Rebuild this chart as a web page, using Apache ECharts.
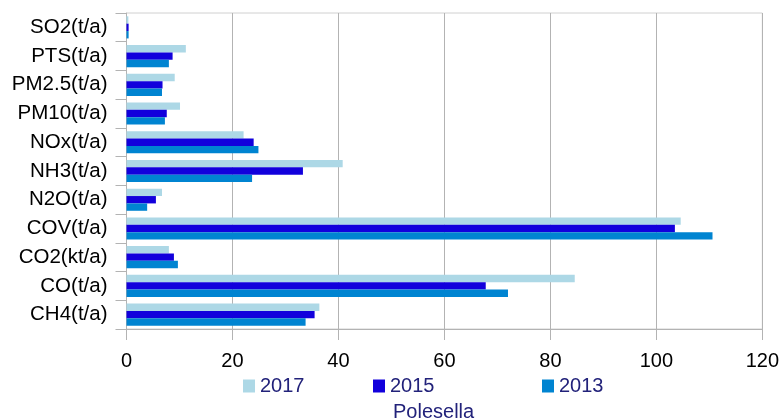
<!DOCTYPE html>
<html><head><meta charset="utf-8">
<script src="https://cdn.jsdelivr.net/npm/echarts@6/dist/echarts.min.js"></script>
<style>html,body{margin:0;padding:0;background:#fff}#c{width:782px;height:420px}</style>
</head><body><div id="c"></div>
<script>
var categories = ['CH4(t/a)','CO(t/a)','CO2(kt/a)','COV(t/a)','N2O(t/a)','NH3(t/a)','NOx(t/a)','PM10(t/a)','PM2.5(t/a)','PTS(t/a)','SO2(t/a)'];
var seriesNames = ['2017','2015','2013'];
var values2017 = [36.4, 84.6, 8.0, 104.6, 6.7, 40.8, 22.1, 10.1, 9.1, 11.2, 0.35];
var values2015 = [35.5, 67.8, 8.95, 103.5, 5.55, 33.3, 24.0, 7.6, 6.8, 8.7, 0.4];
var values2013 = [33.8, 72.0, 9.7, 110.6, 3.9, 23.7, 24.9, 7.25, 6.7, 8.0, 0.4];
var xTicks = [0, 20, 40, 60, 80, 100, 120];
var colors = ['#add8e6', '#1200dc', '#0084d1'];
var titleText = 'Polesella';

var chart = echarts.init(document.getElementById('c'), null, {renderer: 'canvas'});
var font = 'Liberation Sans, Arial, sans-serif';
var allValues = [values2017, values2015, values2013];
var legendLefts = [238, 368, 537];
var option = {
  animation: false,
  color: colors,
  title: {
    text: titleText, left: 388, top: 397,
    textStyle: {fontFamily: font, fontSize: 20, fontWeight: 'normal', color: '#22227a'}
  },
  legend: seriesNames.map(function (n, i) {
    return {
      data: [n], left: legendLefts[i], top: 371,
      itemWidth: 12, itemHeight: 13, icon: 'rect',
      textStyle: {fontFamily: font, fontSize: 20, color: '#22227a'}
    };
  }),
  grid: {left: 126.5, right: 18.5, top: 13, bottom: 91, show: true, borderColor: '#d0d0d0', borderWidth: 1},
  xAxis: {
    type: 'value', min: xTicks[0], max: xTicks[xTicks.length - 1], interval: 20,
    axisLine: {show: true, lineStyle: {color: '#b3b3b3'}},
    axisTick: {show: true, length: 11, lineStyle: {color: '#b3b3b3'}},
    axisLabel: {fontFamily: font, fontSize: 20, color: '#000', margin: 22},
    splitLine: {show: true, lineStyle: {color: '#b3b3b3'}}
  },
  yAxis: {
    type: 'category', data: categories,
    axisLine: {show: true, lineStyle: {color: '#b3b3b3'}},
    axisTick: {show: true, length: 11, interval: 0, lineStyle: {color: '#b3b3b3'}},
    axisLabel: {fontFamily: font, fontSize: 20.5, color: '#000', margin: 19, interval: 0},
    splitLine: {show: false}
  },
  series: seriesNames.map(function (n, i) {
    return {
      name: n, type: 'bar', data: allValues[i],
      barGap: 0, barCategoryGap: '23%',
      itemStyle: {color: colors[i]}
    };
  })
};
chart.setOption(option);
</script></body></html>
